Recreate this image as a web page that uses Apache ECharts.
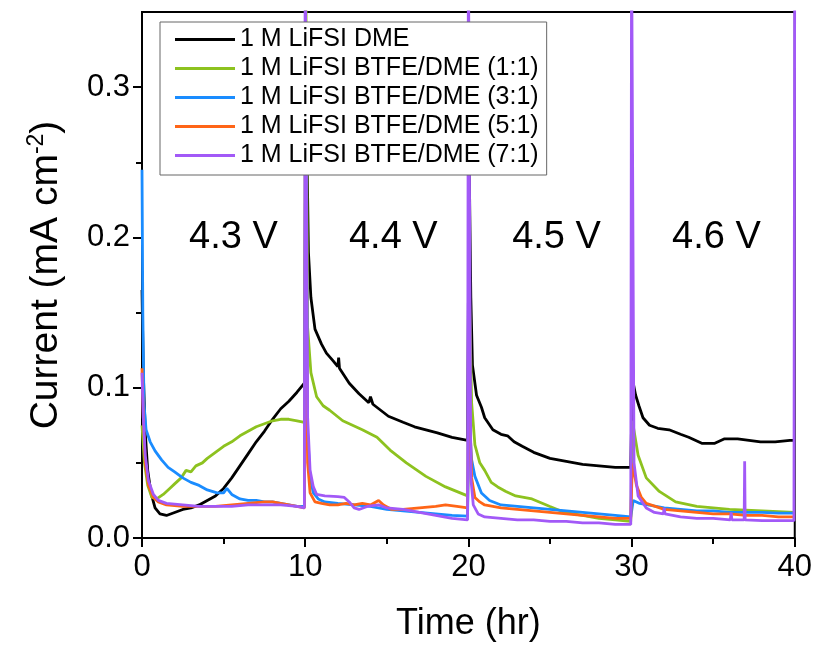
<!DOCTYPE html>
<html>
<head>
<meta charset="utf-8">
<script src="https://cdn.jsdelivr.net/npm/echarts@6/dist/echarts.min.js"></script>
<style>html,body{margin:0;padding:0;background:#fff;}#c{width:815px;height:647px;}</style>
</head>
<body>
<div id="c"></div>
<script>
// ---- Data (time in hr, current in mA cm^-2) ----
const seriesNames = ['1 M LiFSI DME','1 M LiFSI BTFE/DME (1:1)','1 M LiFSI BTFE/DME (3:1)','1 M LiFSI BTFE/DME (5:1)','1 M LiFSI BTFE/DME (7:1)'];
const xTicks = [0,10,20,30,40];
const yTicks = [0.0,0.1,0.2,0.3];
const yMinorTicks = [0.05,0.15,0.25];
const annotationTexts = ['4.3 V','4.4 V','4.5 V','4.6 V'];
const annotationX = [5.6,15.4,25.4,35.2];
const annotationY = [0.2,0.2,0.2,0.2];

const dme = [
 [0,0.165],[0.08,0.11],[0.2,0.07],[0.35,0.045],[0.55,0.03],[0.8,0.02],[1.1,0.016],[1.5,0.015],[2.0,0.017],[2.5,0.019],[3.0,0.02],[3.5,0.022],[4.0,0.025],[4.5,0.028],[5.0,0.033],[5.5,0.04],[6.0,0.048],[6.5,0.056],[7.0,0.064],[7.5,0.071],[8.0,0.079],[8.5,0.086],[9.0,0.091],[9.5,0.097],[9.95,0.103],
 [10.05,0.3],[10.2,0.19],[10.35,0.16],[10.6,0.139],[11.0,0.129],[11.3,0.123],[11.7,0.118],[12.0,0.114],[12.05,0.12],[12.1,0.113],[12.7,0.103],[13.3,0.096],[13.9,0.09],[14.0,0.094],[14.15,0.089],[15.1,0.081],[16,0.077],[16.7,0.074],[17.4,0.072],[18.1,0.07],[19,0.067],[19.95,0.065],
 [20.05,0.25],[20.15,0.16],[20.25,0.115],[20.5,0.095],[20.8,0.087],[21.0,0.08],[21.5,0.072],[22.0,0.069],[22.4,0.068],[22.8,0.064],[23.3,0.061],[24.0,0.057],[25.0,0.053],[26.0,0.051],[27.0,0.049],[28.0,0.048],[29.0,0.047],[29.95,0.047],
 [30.05,0.106],[30.25,0.095],[30.45,0.088],[30.7,0.08],[31.1,0.075],[31.6,0.073],[32.3,0.072],[33,0.069],[33.5,0.067],[34.3,0.063],[35.1,0.063],[35.7,0.066],[36.5,0.066],[37.9,0.064],[38.8,0.064],[39.7,0.065],[40,0.065]
];
const btfe11 = [
 [0,0.075],[0.15,0.05],[0.35,0.035],[0.6,0.027],[0.9,0.026],[1.3,0.029],[1.7,0.033],[2.0,0.036],[2.4,0.04],[2.7,0.045],[3.0,0.044],[3.3,0.048],[3.7,0.05],[4.0,0.053],[4.5,0.057],[5.0,0.061],[5.5,0.064],[6.0,0.068],[6.5,0.071],[7.0,0.074],[7.5,0.076],[8.0,0.078],[8.5,0.079],[9.0,0.079],[9.5,0.078],[9.95,0.077],
 [10.03,0.4],[10.15,0.14],[10.35,0.11],[10.7,0.094],[11.1,0.088],[11.5,0.085],[12.3,0.078],[13.5,0.072],[14.4,0.067],[15.2,0.0585],[16.2,0.05],[17.4,0.041],[18.6,0.034],[19.95,0.028],
 [20.05,0.17],[20.2,0.09],[20.4,0.062],[20.7,0.05],[21,0.045],[21.4,0.037],[21.8,0.034],[22.3,0.031],[22.9,0.028],[23.9,0.026],[25,0.021],[25.9,0.017],[27,0.015],[28,0.013],[29,0.012],[29.95,0.011],
 [30.05,0.078],[30.4,0.055],[30.9,0.04],[31.7,0.031],[32.7,0.024],[34,0.021],[36,0.019],[38,0.018],[40,0.017]
];
const btfe31 = [
 [0,0.245],[0.05,0.15],[0.12,0.09],[0.25,0.072],[0.5,0.064],[0.8,0.058],[1.2,0.052],[1.6,0.047],[2.0,0.044],[2.5,0.04],[3.0,0.037],[3.5,0.035],[4.0,0.032],[4.3,0.031],[4.6,0.03],[5.0,0.03],[5.2,0.033],[5.5,0.029],[6.0,0.026],[6.5,0.025],[7.0,0.025],[7.5,0.024],[8.0,0.024],[8.5,0.023],[9.0,0.022],[9.5,0.021],[9.95,0.021],
 [10.05,0.25],[10.15,0.07],[10.3,0.04],[10.5,0.03],[10.8,0.026],[11.2,0.024],[12,0.023],[13,0.022],[14,0.021],[15,0.019],[16,0.018],[17,0.017],[18,0.016],[19,0.015],[19.95,0.0145],
 [20.05,0.08],[20.2,0.052],[20.4,0.041],[20.8,0.03],[21.3,0.025],[22,0.022],[23,0.021],[24,0.02],[25,0.019],[26,0.018],[27,0.017],[28,0.016],[29,0.015],[29.95,0.014],
 [30.1,0.025],[30.5,0.023],[31,0.022],[32,0.02],[33,0.019],[34,0.018],[35,0.018],[36,0.017],[37,0.017],[38,0.017],[39,0.0165],[40,0.0165]
];
const btfe51 = [
 [0,0.113],[0.08,0.08],[0.2,0.05],[0.4,0.035],[0.7,0.027],[1.0,0.024],[1.5,0.022],[2.5,0.021],[3.5,0.021],[4.5,0.021],[5.5,0.022],[6.5,0.023],[7.5,0.024],[8.0,0.024],[8.5,0.023],[9.0,0.022],[9.5,0.021],[9.95,0.02],
 [10.05,0.2],[10.15,0.05],[10.3,0.03],[10.6,0.024],[11,0.023],[11.5,0.022],[12,0.022],[12.5,0.023],[13,0.022],[13.5,0.023],[14,0.022],[14.5,0.025],[14.8,0.022],[15.3,0.019],[16,0.019],[17,0.02],[18,0.021],[18.6,0.022],[19.3,0.021],[19.95,0.02],
 [20.05,0.1],[20.2,0.04],[20.4,0.027],[20.7,0.024],[21,0.022],[22,0.02],[23,0.019],[24,0.018],[25,0.017],[26,0.016],[27,0.015],[28,0.014],[29,0.013],[29.95,0.013],
 [30.05,0.05],[30.3,0.035],[30.6,0.027],[30.9,0.023],[32,0.019],[33,0.018],[34,0.017],[35,0.016],[36,0.016],[37,0.015],[38,0.015],[39,0.014],[40,0.014]
];
const btfe71 = [
 [0,0.11],[0.08,0.08],[0.2,0.055],[0.4,0.038],[0.7,0.029],[1.0,0.025],[1.5,0.023],[2.5,0.022],[3.5,0.021],[4.5,0.021],[5.5,0.021],[6.5,0.022],[7.5,0.022],[8.5,0.022],[9.5,0.021],[9.95,0.02],[10,0.4],
 [10.05,0.4],[10.15,0.08],[10.3,0.045],[10.5,0.034],[10.7,0.029],[11.2,0.028],[12,0.0275],[12.4,0.027],[12.7,0.024],[13.0,0.02],[13.3,0.019],[13.8,0.021],[14.5,0.022],[15,0.02],[16,0.019],[17,0.017],[18,0.015],[19,0.013],[19.95,0.012],[20,0.4],
 [20.05,0.4],[20.15,0.04],[20.3,0.022],[20.6,0.016],[21,0.014],[22,0.013],[23,0.012],[24,0.012],[25,0.011],[26,0.011],[27,0.01],[28,0.01],[29,0.009],[29.95,0.009],[30,0.4],
 [30.05,0.4],[30.15,0.05],[30.4,0.028],[30.9,0.02],[31.4,0.017],[31.95,0.016],[32.0,0.02],[32.05,0.016],[33,0.014],[34,0.013],[35,0.013],[36.05,0.012],[36.1,0.017],[36.15,0.012],[36.9,0.012],[36.93,0.051],[36.96,0.012],[38,0.0115],[39,0.0115],[39.95,0.0115],[40,0.4]
];
const seriesData = [dme, btfe11, btfe31, btfe51, btfe71];
const seriesColors = ['#000000','#8DC21F','#1A8CFF','#FF6517','#A259F7'];

const FONT = 'Liberation Sans, Arial, sans-serif';
const chart = echarts.init(document.getElementById('c'), null, {renderer:'canvas'});

const lineSeries = seriesNames.map((n,i)=>({
  name: n, type:'line', data: seriesData[i], xAxisIndex:0, yAxisIndex:0,
  symbol:'none', smooth:false, clip:true,
  lineStyle:{color:seriesColors[i], width:2.8}, itemStyle:{color:seriesColors[i]},
  z: 2
}));

const annSeries = {
  type:'scatter', xAxisIndex:0, yAxisIndex:0, symbolSize:0, silent:true,
  itemStyle:{opacity:1},
  data: annotationTexts.map((t,i)=>({value:[annotationX[i],annotationY[i]], name:t})),
  label:{show:true, position:'inside', formatter:p=>p.name, color:'#000', opacity:1, fontSize:38, fontFamily:FONT},
  z: 3
};

chart.setOption({
  animation:false,
  backgroundColor:'#fff',
  grid:{left:142, right:19, top:12, bottom:107, show:true, borderColor:'#000', borderWidth:2, backgroundColor:'transparent'},
  legend:{
    data: seriesNames, orient:'vertical', left:160, top:22, z:50,
    backgroundColor:'#fff', borderColor:'#666', borderWidth:1,
    padding:[5,8,7,15], itemGap:4, itemWidth:60, itemHeight:14,
    textStyle:{fontSize:25, fontFamily:FONT, color:'#000', lineHeight:25},
    icon:'path://M0,5.5 L60,5.5 L60,8.5 L0,8.5 Z'
  },
  xAxis:[{
    type:'value', min:0, max:40, interval:10,
    name:'Time (hr)', nameLocation:'middle', nameGap:68,
    nameTextStyle:{fontSize:36, fontFamily:FONT, color:'#000'},
    axisLine:{show:true, onZero:false, lineStyle:{color:'#000', width:2}},
    axisTick:{show:true, inside:false, length:9, lineStyle:{color:'#000', width:2}},
    minorTick:{show:true, splitNumber:2, length:6, lineStyle:{color:'#000', width:2}},
    axisLabel:{fontSize:31, fontFamily:FONT, color:'#000', margin:14},
    splitLine:{show:false}
  }],
  yAxis:[{
    type:'value', min:0, max:0.35,
    name:'{a|Current (mA cm}{s|-2}{a|)}', nameLocation:'middle', nameGap:74,
    nameTextStyle:{fontFamily:FONT, color:'#000', rich:{a:{fontSize:39, fontFamily:FONT, color:'#000'}, s:{fontSize:23, fontFamily:FONT, color:'#000', padding:[0,0,20,0]}}},
    axisLine:{show:true, onZero:false, lineStyle:{color:'#000', width:2}},
    axisTick:{show:true, inside:false, length:9, customValues:yTicks, lineStyle:{color:'#000', width:2}},
    axisLabel:{fontSize:31, fontFamily:FONT, color:'#000', margin:12, customValues:yTicks, formatter:v=>v.toFixed(1)},
    splitLine:{show:false}
  },{
    type:'value', min:0, max:0.35, position:'left', offset:0,
    axisLine:{show:false},
    axisTick:{show:true, inside:false, length:6, customValues:yMinorTicks, lineStyle:{color:'#000', width:2}},
    axisLabel:{show:false},
    splitLine:{show:false}
  }],
  series: lineSeries.concat([annSeries])
});
</script>
</body>
</html>
